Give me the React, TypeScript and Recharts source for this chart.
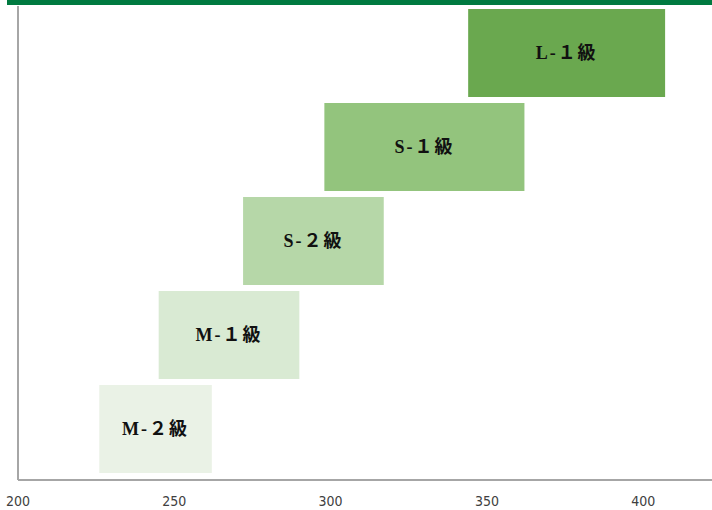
import { BarChart, Bar, XAxis, YAxis, Cell, LabelList } from "recharts";

const grades = ["L-１級", "S-１級", "S-２級", "M-１級", "M-２級"];
const lowValues = [344, 298, 272, 245, 226];
const highValues = [407, 362, 317, 290, 262];
const barColors = ["#6aa84f", "#93c47d", "#b6d7a8", "#d9ead3", "#eaf2e6"];
const xTicks = [200, 250, 300, 350, 400];

const data = grades.map((name, i) => ({
  name,
  range: [lowValues[i], highValues[i]],
}));

export default function App() {
  return (
    <div style={{ position: "relative", width: 712, height: 510, background: "#fff" }}>
      <style>{"body{margin:0}"}</style>
      <div
        style={{
          position: "absolute",
          left: 7,
          top: 0,
          width: 705,
          height: 5,
          background: "#007a40",
        }}
      />
      <BarChart
        width={712}
        height={510}
        data={data}
        layout="vertical"
        margin={{ top: 6, right: 0, bottom: 0, left: 0 }}
        barSize={88}
      >
        <XAxis
          type="number"
          domain={[200, 422]}
          ticks={xTicks}
          allowDataOverflow
          height={30}
          tickLine={false}
          tickSize={0}
          tickMargin={16}
          axisLine={{ stroke: "#a6a6a6", strokeWidth: 2 }}
          tick={{ fill: "#404040", fontSize: 14, fontFamily: "'Liberation Sans Narrow', 'DejaVu Sans Condensed', sans-serif" }}
        />
        <YAxis
          type="category"
          dataKey="name"
          width={18}
          padding={{ top: 0, bottom: 4 }}
          tick={false}
          tickLine={false}
          axisLine={{ stroke: "#a6a6a6", strokeWidth: 2 }}
        />
        <Bar dataKey="range" isAnimationActive={false}>
          {data.map((entry, i) => (
            <Cell key={entry.name} fill={barColors[i]} />
          ))}
          <LabelList
            dataKey="name"
            position="center"
            fill="#111"
            fontSize={18}
            fontWeight="bold"
            fontFamily="'Liberation Serif', 'Noto Sans CJK JP', serif"
            letterSpacing={2}
          />
        </Bar>
      </BarChart>
    </div>
  );
}
